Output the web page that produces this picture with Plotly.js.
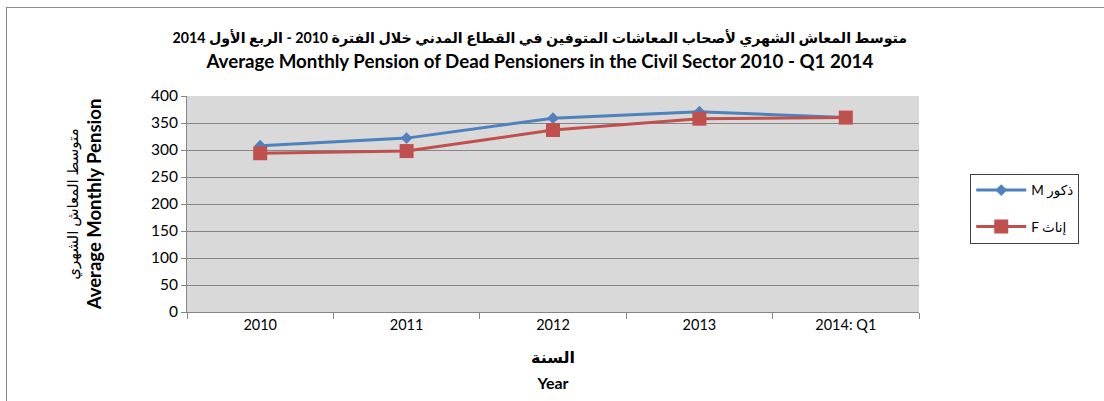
<!DOCTYPE html>
<html>
<head>
<meta charset="utf-8">
<script src="https://cdn.plot.ly/plotly-3.0.1.min.js"></script>
<style>
html,body{margin:0;padding:0;background:#fff;}
#wrap{position:relative;width:1104px;height:401px;overflow:hidden;}
#chart{width:1104px;height:401px;}
#frame{position:absolute;left:6px;top:7px;width:1200px;height:500px;border:1px solid #8c8c8c;pointer-events:none;}
</style>
</head>
<body>
<div id="wrap"><div id="chart"></div><div id="frame"></div></div>
<script>
const categories = ["2010", "2011", "2012", "2013", "2014: Q1"];
const maleValues = [308, 322, 359, 371, 360];
const femaleValues = [294, 298, 337, 358, 360];
const maleName = "M ذكور";
const femaleName = "F إناث";
const titleAr = "متوسط المعاش الشهري لأصحاب المعاشات المتوفين في القطاع المدني خلال الفترة 2010 - الربع الأول 2014";
const titleEn = "Average Monthly Pension of Dead Pensioners in the Civil Sector 2010 - Q1 2014";
const yTitleAr = "متوسط المعاش الشهري";
const yTitleEn = "Average Monthly Pension";
const xTitleAr = "السنة";
const xTitleEn = "Year";

const FONT = "Lato, 'DejaVu Sans', sans-serif";

const traces = [
  {
    x: categories, y: maleValues, name: maleName, type: "scatter", mode: "lines+markers",
    line: {color: "#4F81BD", width: 3},
    marker: {symbol: "diamond", size: 9, color: "#4F81BD"},
    legendgroup: "m"
  },
  {
    x: categories, y: femaleValues, name: femaleName, type: "scatter", mode: "lines+markers",
    line: {color: "#C0504D", width: 3},
    marker: {symbol: "square", size: 14, color: "#C0504D"},
    legendgroup: "f"
  }
];

const layout = {
  width: 1104, height: 401,
  margin: {l: 187, r: 185, t: 96, b: 89},
  paper_bgcolor: "#ffffff",
  plot_bgcolor: "#D9D9D9",
  font: {family: FONT, color: "#000"},
  title: {
    text: "<b><span style='font-size:14.2px'>" + titleAr + "</span></b><br><b><span style='font-size:18.7px'>" + titleEn + "</span></b>",
    font: {family: FONT, size: 19, color: "#000"},
    x: 0.489, xanchor: "center", y: 0.892, yanchor: "top"
  },
  xaxis: {
    type: "category",
    tickson: "boundaries",
    ticks: "outside", ticklen: 6, tickcolor: "#868686",
    showline: true, linecolor: "#868686", linewidth: 1,
    showgrid: false,
    tickfont: {family: FONT, size: 14.5, color: "#000"},
    title: {text: "<b><span style='font-size:16px'>" + xTitleAr + "</span></b><br><b><span style='font-size:16px'>" + xTitleEn + "</span></b>", font: {family: FONT, size: 20, color: "#000"}, standoff: 16},
    range: [-0.5, 4.5]
  },
  yaxis: {
    range: [0, 400], dtick: 50,
    ticks: "outside", ticklen: 5, tickcolor: "#868686",
    showline: true, linecolor: "#868686", linewidth: 1,
    gridcolor: "#868686", gridwidth: 1,
    zeroline: false,
    tickfont: {family: FONT, size: 15.5, color: "#000"},
    title: {text: "<span style='font-size:15px'>" + yTitleAr + "</span><br><b><span style='font-size:18.5px'>" + yTitleEn + "</span></b>", font: {family: FONT, size: 18, color: "#000"}, standoff: 44}
  },
  legend: {
    x: 1.07, xanchor: "left", y: 0.64, yanchor: "top",
    bordercolor: "#404040", borderwidth: 1, bgcolor: "#ffffff",
    font: {family: FONT, size: 13.5, color: "#000"},
    tracegroupgap: 16, traceorder: "grouped",
    itemwidth: 50
  },
  showlegend: true
};

Plotly.newPlot("chart", traces, layout, {displayModeBar: false, staticPlot: true});
</script>
</body>
</html>
